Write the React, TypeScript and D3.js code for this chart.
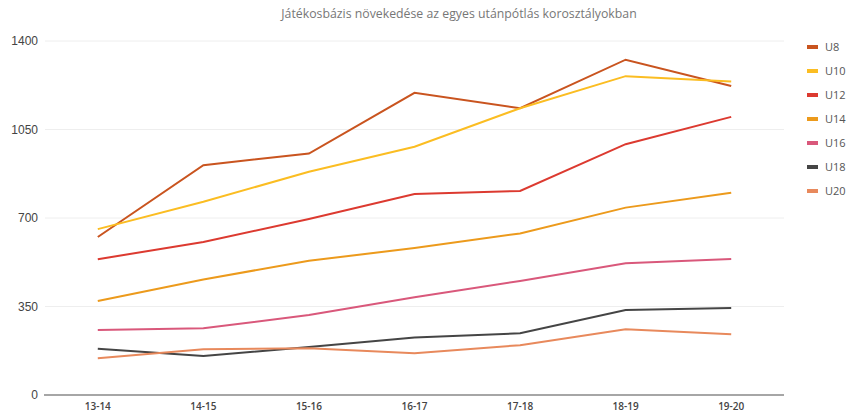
import React from "react";
import * as d3 from "d3";

const categories = ["13-14", "14-15", "15-16", "16-17", "17-18", "18-19", "19-20"];
const seriesNames = ["U8", "U10", "U12", "U14", "U16", "U18", "U20"];
const u8 = [625, 909, 955, 1195, 1134, 1326, 1222];
const u10 = [656, 764, 883, 982, 1134, 1261, 1240];
const u12 = [537, 605, 696, 795, 807, 992, 1100];
const u14 = [372, 457, 531, 581, 639, 741, 800];
const u16 = [257, 264, 316, 387, 451, 521, 538];
const u18 = [183, 154, 190, 227, 244, 336, 344];
const u20 = [145, 181, 185, 165, 197, 260, 240];
const yTicks = [0, 350, 700, 1050, 1400];
const colors = ["#c9541f", "#fbbd22", "#dc3a30", "#ec9a1c", "#d9587b", "#454545", "#e8895c"];
const title = "Játékosbázis növekedése az egyes utánpótlás korosztályokban";

const allValues = [u8, u10, u12, u14, u16, u18, u20];

export default function App() {
  const W = 849, H = 413;
  const x = d3.scaleBand<string>().domain(categories).range([45, 784]);
  const y = d3.scaleLinear().domain([0, 1400]).range([395, 41]);
  const cx = (c: string) => (x(c) as number) + x.bandwidth() / 2;
  const line = d3.line<number>().x((_, i) => cx(categories[i])).y((v) => y(v));

  return (
    <svg width={W} height={H} style={{ position: "absolute", left: 0, top: 0, background: "#fff" }}>
      <text x={459} y={18} textAnchor="middle" fontFamily="Open Sans, sans-serif" fontSize={12.3} fill="#777">{title}</text>
      {yTicks.filter((t) => t > 0).map((t) => (
        <line key={t} x1={45} x2={784} y1={y(t)} y2={y(t)} stroke="#eeeeee" strokeWidth={1} />
      ))}
      {yTicks.map((t) => (
        <text key={"l" + t} x={38} y={y(t) + 4} textAnchor="end" fontFamily="Liberation Sans, Arial, sans-serif" fontSize={12} fill="#444">{t}</text>
      ))}
      <line x1={44} x2={784} y1={y(0)} y2={y(0)} stroke="#888" strokeWidth={1.5} />
      {categories.map((c) => (
        <text key={c} x={cx(c)} y={410} textAnchor="middle" fontFamily="Open Sans, sans-serif" fontSize={10} fontWeight={600} fill="#444">{c}</text>
      ))}
      {allValues.map((vals, i) => (
        <path key={seriesNames[i]} d={line(vals) || ""} fill="none" stroke={colors[i]} strokeWidth={2} />
      ))}
      {seriesNames.map((n, i) => (
        <g key={"lg" + n} transform={`translate(807, ${47 + i * 24})`}>
          <rect x={0} y={-2} width={11} height={4} fill={colors[i]} />
          <text x={18} y={4} fontFamily="Open Sans, sans-serif" fontSize={11} fill="#555">{n}</text>
        </g>
      ))}
    </svg>
  );
}
